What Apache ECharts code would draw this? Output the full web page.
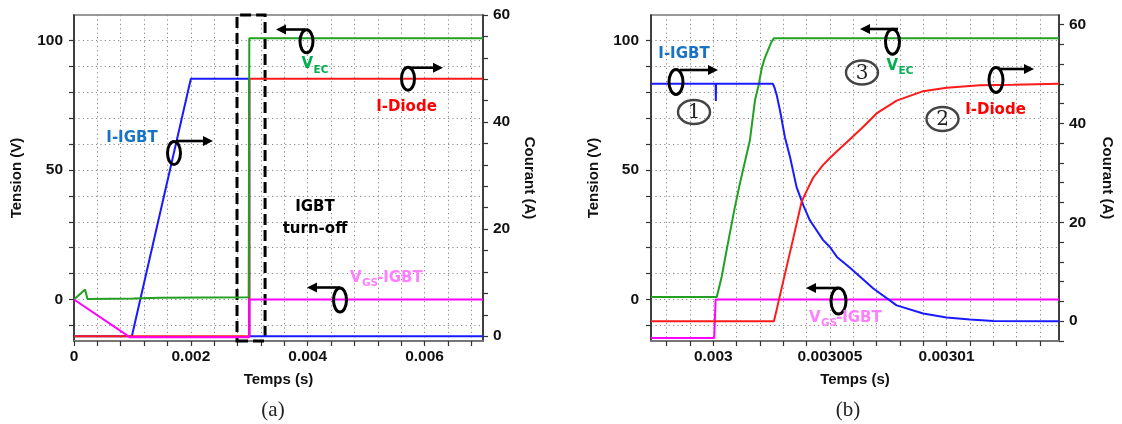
<!DOCTYPE html>
<html><head><meta charset="utf-8">
<script src="https://cdn.jsdelivr.net/npm/echarts@6/dist/echarts.min.js"></script>
<style>html,body{margin:0;padding:0;background:#fff}#c{width:1122px;height:424px}</style>
</head><body><div id="c"></div>
<script>
// ---------- tick / label values ----------
const aXTicks = [0,0.0004,0.0008,0.0012,0.0016,0.002,0.0024,0.0028,0.0032,0.0036,0.004,0.0044,0.0048,0.0052,0.0056,0.006,0.0064,0.0068];
const aXLabels = [0,0.002,0.004,0.006];
const bXTicks = [0.002998,0.002999,0.003,0.003001,0.003002,0.003003,0.003004,0.003005,0.003006,0.003007,0.003008,0.003009,0.00301,0.003011,0.003012,0.003013,0.003014];
const bXLabels = [0.003,0.003005,0.00301];
const vTicks = [-10,0,10,20,30,40,50,60,70,80,90,100];
const vLabels = [0,50,100];
const aITicks = [0,4,8,12,16,20,24,28,32,36,40,44,48,52,56,60];
const bITicks = [-4,0,4,8,12,16,20,24,28,32,36,40,44,48,52,56,60];
const iLabels = [0,20,40,60];

// ---------- panel (a) series ----------
const aVecT = [0,0.00019,0.00023,0.00102,0.00147,0.00299,0.003,0.007];
const aVecV = [0,3.9,0.2,0.4,0.7,0.9,100.8,100.8];
const aVgsT = [0,0.00096,0.003,0.003,0.007];
const aVgsV = [0,-14.6,-14.6,0,0];
const aIgbtT = [0,0.00099,0.002,0.003,0.003,0.007];
const aIgbtI = [0,0,48.1,48.1,0,0];
const aDiodeT = [0,0.003,0.003,0.007];
const aDiodeI = [0,0,48.1,48.1];
const aTurnOff = [0.00279,0.00327];

// ---------- panel (b) series ----------
const bVecT = [0.00299733,0.00300015,0.00300036,0.00300057,0.0030009,0.00300114,0.00300157,0.00300179,0.00300195,0.00300207,0.0030022,0.00300236,0.0030025,0.0030026,0.00301482];
const bVecV = [1.0,1.0,8.8,19,34.5,44.8,61.5,77,83,89,93,96.5,99.5,100.8,100.8];
const bVgsT = [0.00299733,0.00300004,0.0030001,0.00301482];
const bVgsV = [-14.8,-14.8,0,0];
const bIgbtT = [0.00299733,0.0030001,0.00300011,0.00300012,0.00300255,0.00300262,0.00300272,0.00300286,0.00300307,0.00300329,0.00300357,0.00300386,0.00300414,0.00300471,0.003005,0.0030053,0.00300586,0.00300686,0.00300786,0.003009,0.00301,0.003011,0.003012,0.00301482];
const bIgbtI = [48,48,44.5,48,48,47.3,45.7,42.6,37.2,33.2,27.1,23.4,20.4,16.4,15.0,13.0,10.8,6.6,3.2,1.55,0.75,0.34,0.06,0];
const bDiodeT = [0.00299733,0.0030026,0.00300275,0.003003,0.00300343,0.00300379,0.003004,0.00300428,0.00300471,0.003005,0.00300529,0.00300586,0.00300643,0.003007,0.00300786,0.003009,0.00301,0.00301143,0.00301285,0.00301482];
const bDiodeI = [0,0,3,8.1,16.8,24.2,26.3,29.0,31.6,33.0,34.3,36.8,39.3,42.0,44.6,46.5,47.2,47.7,47.8,48.0];

const zip = (t, v) => t.map((x, i) => [x, v[i]]);

const LBL = {fontFamily:'"Liberation Sans", Arial, sans-serif', fontWeight:'bold', fontSize:15.5, color:'#111'};
const NAME = {fontFamily:'"Liberation Sans", Arial, sans-serif', fontWeight:'bold', fontSize:15, color:'#111'};
const fmt = v => String(+(+v).toPrecision(6));

function xAx(grid, min, max, ticks, labels) {
  return {type:'value', gridIndex:grid, min, max, name:'Temps (s)', nameLocation:'middle', nameGap:31, nameTextStyle:NAME,
    axisLine:{show:true, onZero:false, lineStyle:{color:'#777', width:2}},
    axisTick:{show:true, inside:false, length:5, customValues:ticks, lineStyle:{color:'#333', width:1.2}},
    axisLabel:{customValues:labels, formatter:fmt, margin:8, ...LBL},
    splitLine:{show:true, lineStyle:{color:'#8a8a8a', width:1, type:[1.2,3.2]}}};
}
function yAx(grid, pos, min, max, ticks, labels, name, gap, split, margin) {
  return {type:'value', gridIndex:grid, position:pos, min, max, name, nameLocation:'middle', nameGap:gap,
    nameRotate: pos === 'right' ? -90 : 90, nameTextStyle:NAME,
    axisLine:{show:true, onZero:false, lineStyle:{color:'#222', width:1.5}},
    axisTick:{show:true, inside:false, length:5, customValues:ticks, lineStyle:{color:'#333', width:1.2}},
    axisLabel:{customValues:labels, formatter:fmt, margin, ...LBL},
    splitLine:{show:split, lineStyle:{color:'#8a8a8a', width:1, type:[1.2,3.2]}}};
}
function line(name, x, y, data, color, z) {
  return {name, type:'line', xAxisIndex:x, yAxisIndex:y, data, showSymbol:false, symbol:'none',
    lineStyle:{color, width:2}, itemStyle:{color}, z, silent:true, animation:false};
}

// ---------- annotation helpers ----------
const G = [];
function oval(cx, cy, rx, ry, stroke, w) {
  G.push({type:'ellipse', shape:{cx, cy, rx, ry}, style:{fill:'none', stroke:stroke||'#000', lineWidth:w||3}, z:100});
}
function arrow(x1, x2, y) {
  const d = Math.sign(x2 - x1);
  G.push({type:'line', shape:{x1, y1:y, x2:x2 - d*7, y2:y}, style:{stroke:'#000', lineWidth:2.6}, z:100});
  G.push({type:'polygon', shape:{points:[[x2,y],[x2-d*10,y-5],[x2-d*10,y+5]]}, style:{fill:'#000'}, z:100});
}
function txt(x, y, text, color, size, align, family, weight) {
  G.push({type:'text', x, y, z:101, style:{text, fill:color, align:align||'center', verticalAlign:'middle',
    font:(weight||'bold') + ' ' + (size||15) + 'px ' + (family||'"DejaVu Sans", sans-serif'), lineHeight:22}});
}
function circled(cx, cy, n) {
  oval(cx, cy, 16, 12, '#444', 2.4);
  txt(cx, cy + 1, n, '#222', 20, 'center', '"DejaVu Serif", serif', 'normal');
}

// panel (a)
oval(174, 153, 6.5, 11.5); arrow(176, 213, 141);
oval(306.5, 41.3, 6.5, 11.5); arrow(305, 276, 29.5);
oval(408, 78.7, 6.5, 11.5); arrow(410, 443, 67.7);
oval(340, 300, 6.5, 12); arrow(340, 307, 287.5);
txt(132, 138, 'I-IGBT', '#1a72c4');
txt(301.5, 64.5, 'V', '#00b050', 15, 'left');
txt(313.5, 70.5, 'EC', '#00b050', 10.5, 'left');
txt(406.5, 107, 'I-Diode', '#ff0000');
txt(315, 218, 'IGBT\nturn-off', '#000');
txt(350, 278, 'V', '#ff80ff', 15, 'left');
txt(362, 283, 'GS', '#ff80ff', 10.5, 'left');
txt(377, 278, '-IGBT', '#ff80ff', 15, 'left');
txt(273, 410, '(a)', '#222', 21, 'center', '"Liberation Serif", serif', 'normal');

// panel (b)
oval(676, 82, 7, 12.5); arrow(680, 718, 70);
oval(892.5, 41.7, 7, 12.5); arrow(898, 860, 29);
oval(996, 80, 7, 12.5); arrow(1000, 1034, 69);
oval(838.5, 301, 7.5, 13); arrow(838, 806, 288);
txt(684, 54, 'I-IGBT', '#1a72c4');
circled(694, 112, '1');
circled(862, 72.5, '3');
circled(942.5, 119, '2');
txt(886.5, 66, 'V', '#00b050', 15, 'left');
txt(898.5, 71.5, 'EC', '#00b050', 10.5, 'left');
txt(995.5, 110, 'I-Diode', '#ff0000');
txt(809, 318, 'V', '#ff80ff', 15, 'left');
txt(821, 323, 'GS', '#ff80ff', 10.5, 'left');
txt(836, 318, '-IGBT', '#ff80ff', 15, 'left');
txt(848, 410, '(b)', '#222', 21, 'center', '"Liberation Serif", serif', 'normal');

const chart = echarts.init(document.getElementById('c'), null, {renderer:'canvas'});
chart.setOption({
  animation:false,
  backgroundColor:'#fff',
  grid:[
    {left:74, top:15, width:409, height:326, show:true, borderColor:'#999', borderWidth:2, containLabel:false, outerBoundsMode:'none'},
    {left:651, top:15, width:408, height:326, show:true, borderColor:'#999', borderWidth:2, containLabel:false, outerBoundsMode:'none'}
  ],
  xAxis:[
    xAx(0, 0, 0.007, aXTicks, aXLabels),
    xAx(1, 0.00299733, 0.00301482, bXTicks, bXLabels)
  ],
  yAxis:[
    yAx(0, 'left', -16, 109.8, vTicks, vLabels, 'Tension (V)', 50, true, 11),
    yAx(0, 'right', -0.9, 60, aITicks, iLabels, 'Courant (A)', 39, false, 10),
    yAx(1, 'left', -16, 109.8, vTicks, vLabels, 'Tension (V)', 50, true, 12),
    yAx(1, 'right', -4, 61.9, bITicks, iLabels, 'Courant (A)', 41, false, 10)
  ],
  series:[
    line('aIGBT', 0, 1, zip(aIgbtT, aIgbtI), '#1a1aff', 3),
    line('aDiode', 0, 1, zip(aDiodeT, aDiodeI), '#ff1a1a', 4),
    line('aVEC', 0, 0, zip(aVecT, aVecV), '#22a022', 5),
    Object.assign(line('aVGS', 0, 0, zip(aVgsT, aVgsV), '#ff00ff', 6), {
      markArea:{silent:true, itemStyle:{color:'rgba(0,0,0,0)', borderColor:'#000', borderWidth:3, borderType:[11,5]},
        data:[[{xAxis:aTurnOff[0]}, {xAxis:aTurnOff[1]}]]}}),
    line('bVGS', 1, 2, zip(bVgsT, bVgsV), '#ff00ff', 3),
    line('bVEC', 1, 2, zip(bVecT, bVecV), '#22a022', 4),
    line('bIGBT', 1, 3, zip(bIgbtT, bIgbtI), '#1a1aff', 5),
    line('bDiode', 1, 3, zip(bDiodeT, bDiodeI), '#ff1a1a', 6)
  ],
  graphic:{elements:G}
});
</script>
</body></html>
